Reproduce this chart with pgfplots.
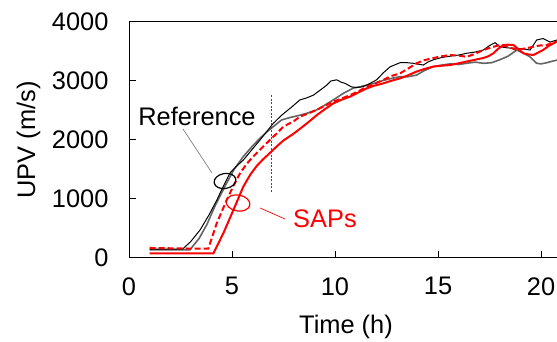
\documentclass[border=0pt]{standalone}
\usepackage{fontspec}
\setmainfont{Liberation Sans}
\usepackage{pgfplots}
\pgfplotsset{compat=1.18}
\newcommand{\bigf}{\fontsize{25.5}{30}\selectfont}
\definecolor{refgray}{RGB}{100,100,100}
\begin{document}
\begin{tikzpicture}
\path[use as bounding box] (0,0) rectangle (557bp,342bp);
\begin{axis}[
  at={(129bp,84bp)}, anchor=south west,
  scale only axis, width=432.6bp, height=236bp,
  xmin=0, xmax=21, ymin=0, ymax=4000,
  xtick={0,5,10,15,20}, ytick={0,1000,2000,3000,4000},
  xtick pos=bottom, ytick pos=left, tick align=inside,
  major tick length=7bp,
  axis line style={line width=1bp}, tick style={line width=1bp, black},
  /pgf/number format/assume math mode=true,
  /pgf/number format/set thousands separator={},
  tick label style={font=\bigf},
  yticklabel style={xshift=-17bp},
  xticklabel style={yshift=-16bp},
  clip=true,
]
% Reference 2 (gray)
\addplot[color=refgray, line width=1.6bp] coordinates {
(1.0,140) (2.0,140) (2.96,140) (3.4,330) (3.77,560) (4.2,900) (4.74,1270) (5.1,1500) (5.55,1720) (6.0,1900) (6.36,2030) (6.7,2140) (7.0,2225) (7.41,2340) (7.8,2380) (8.3,2420) (8.7,2460) (9.11,2510) (9.5,2590) (9.92,2680) (10.4,2790) (10.89,2880) (11.2,2900) (11.54,2930) (11.9,2960) (12.35,3010) (12.7,3040) (13.16,3075) (13.5,3070) (13.96,3100) (14.3,3170) (14.78,3245) (15.2,3270) (15.58,3290) (16.0,3280) (16.39,3300) (16.8,3320) (17.2,3300) (17.6,3310) (18.0,3360) (18.4,3420) (18.82,3525) (19.1,3480) (19.47,3410) (19.79,3300) (20.0,3290) (20.28,3310) (20.6,3340) (21.0,3370)
};
% Reference 1 (black)
\addplot[color=black, line width=1bp] coordinates {
(1.0,150) (2.0,150) (2.6,150) (3.0,280) (3.45,475) (3.9,740) (4.26,980) (4.6,1230) (4.9,1440) (5.2,1550) (5.55,1660) (6.0,1850) (6.36,2000) (6.7,2150) (7.0,2280) (7.41,2420) (7.9,2560) (8.3,2680) (8.6,2710) (8.95,2760) (9.3,2850) (9.6,2930) (9.8,3000) (10.08,3020) (10.3,2980) (10.49,2960) (10.8,2900) (11.05,2890) (11.3,2900) (11.54,2930) (12.02,3020) (12.35,3140) (12.67,3240) (13.16,3310) (13.5,3310) (13.8,3300) (14.29,3270) (14.5,3320) (14.78,3360) (15.2,3400) (15.58,3420) (16.0,3440) (16.39,3470) (16.8,3490) (17.2,3525) (17.5,3600) (17.77,3650) (18.0,3580) (18.4,3560) (18.82,3555) (19.2,3540) (19.47,3525) (19.79,3695) (20.1,3720) (20.44,3660) (20.78,3695) (21.0,3700)
};
% SAPs dashed
\addplot[color=red, line width=2bp, dash pattern=on 6bp off 3bp] coordinates {
(1.0,170) (2.0,165) (3.0,160) (3.85,160) (4.26,590) (4.74,980) (5.05,1210) (5.39,1435) (5.7,1590) (6.03,1720) (6.4,1850) (6.84,2000) (7.2,2120) (7.49,2225) (8.0,2320) (8.3,2395) (8.7,2450) (9.11,2510) (9.5,2580) (9.92,2650) (10.3,2700) (10.73,2760) (11.1,2820) (11.54,2900) (11.9,2950) (12.35,3020) (12.7,3080) (13.16,3130) (13.5,3200) (13.96,3300) (14.3,3350) (14.78,3390) (15.2,3420) (15.58,3440) (16.0,3430) (16.39,3410) (16.8,3460) (17.2,3525) (17.6,3570) (18.0,3610) (18.4,3580) (18.82,3525) (19.2,3550) (19.63,3580) (19.9,3600) (20.28,3610) (20.5,3640) (20.78,3670) (21.0,3680)
};
% SAPs solid
\addplot[color=red, line width=2bp] coordinates {
(1.0,80) (2.0,80) (3.0,80) (4.1,80) (4.58,420) (5.07,815) (5.55,1210) (5.9,1420) (6.2,1560) (6.5,1670) (6.84,1780) (7.2,1900) (7.49,1990) (8.0,2110) (8.3,2190) (8.7,2300) (9.11,2420) (9.5,2520) (9.92,2620) (10.3,2680) (10.73,2735) (11.1,2800) (11.54,2875) (11.9,2920) (12.35,2960) (12.7,3000) (13.16,3045) (13.5,3090) (13.96,3160) (14.3,3200) (14.78,3245) (15.2,3260) (15.58,3270) (16.0,3300) (16.39,3330) (16.8,3360) (17.2,3390) (17.45,3420) (17.69,3470) (17.9,3540) (18.17,3610) (18.4,3615) (18.66,3610) (18.9,3540) (19.14,3470) (19.4,3450) (19.63,3440) (19.85,3480) (20.1,3525) (20.4,3600) (20.78,3670) (21.0,3690)
};
\draw[black!70, line width=0.8bp, dash pattern=on 2bp off 1.5bp] (axis cs:6.9,1119) -- (axis cs:6.9,2780);
\end{axis}
% annotations
\draw[black, line width=1.2bp, rotate around={10:(225bp,161bp)}] (225bp,161bp) ellipse [x radius=11bp, y radius=7.5bp];
\draw[gray, line width=0.7bp] (183bp,213bp) -- (212bp,169bp);
\node[anchor=base, font=\bigf, inner sep=0pt] at (197bp,216bp) {Reference};
\draw[red, line width=1.2bp, rotate around={-10:(238bp,139bp)}] (238bp,139bp) ellipse [x radius=12bp, y radius=8bp];
\draw[red, line width=0.7bp] (260bp,134bp) -- (285bp,123bp);
\node[anchor=base, font=\bigf, inner sep=0pt, text=red] at (325bp,114bp) {SAPs};
\node[anchor=base, font=\bigf, inner sep=0pt] at (346bp,9bp) {Time (h)};
\node[anchor=base, font=\bigf, inner sep=0pt, rotate=90] at (35bp,202bp) {UPV (m/s)};
\end{tikzpicture}
\end{document}
